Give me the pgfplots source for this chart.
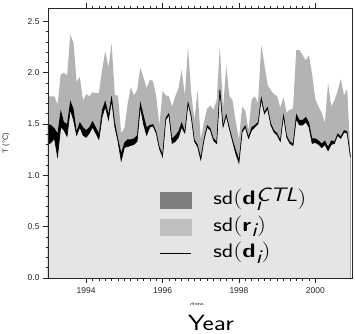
\documentclass[border=0pt]{standalone}
\usepackage{pgfplots}
\pgfplotsset{compat=1.18}
\usepackage{pgfplotstable}
\usepackage{graphicx}
\usepackage{fontspec}
\setmainfont{Liberation Sans}
\definecolor{bandgray}{HTML}{B3B3B3}
\definecolor{basegray}{HTML}{E5E5E5}
\definecolor{legdark}{HTML}{7F7F7F}
\definecolor{leglight}{HTML}{BFBFBF}

\pgfplotstableread{
t lo mid up
0 1.30 1.50 1.77
1 1.32 1.49 1.77
2 1.36 1.46 1.77
3 1.18 1.41 1.69
4 1.47 1.64 1.98
5 1.44 1.52 2.00
6 1.38 1.50 1.97
7 1.64 1.73 2.37
8 1.54 1.65 2.29
9 1.39 1.43 1.91
10 1.47 1.52 1.96
11 1.39 1.47 1.73
12 1.37 1.44 1.79
13 1.41 1.47 1.77
14 1.47 1.53 1.81
15 1.41 1.47 1.80
16 1.35 1.41 1.80
17 1.57 1.64 2.03
18 1.67 1.73 2.21
19 1.54 1.60 2.05
20 1.73 1.78 2.29
21 1.47 1.52 1.78
22 1.33 1.36 1.78
23 1.14 1.22 1.41
24 1.27 1.32 1.46
25 1.28 1.35 1.69
26 1.29 1.35 1.86
27 1.30 1.36 1.78
28 1.33 1.39 1.83
29 1.67 1.72 2.05
30 1.50 1.59 1.95
31 1.39 1.47 1.85
32 1.47 1.49 1.93
33 1.48 1.50 1.92
34 1.41 1.43 1.77
35 1.26 1.28 1.49
36 1.18 1.21 1.82
37 1.54 1.56 1.78
38 1.59 1.61 1.77
39 1.31 1.36 1.67
40 1.33 1.39 1.77
41 1.37 1.43 1.85
42 1.47 1.52 2.03
43 1.41 1.43 1.78
44 1.70 1.72 2.25
45 1.57 1.59 1.80
46 1.33 1.35 1.54
47 1.28 1.30 1.83
48 1.15 1.18 1.35
49 1.34 1.36 1.52
50 1.47 1.49 1.65
51 1.44 1.46 1.68
52 1.34 1.36 1.64
53 1.31 1.33 1.73
54 1.83 1.85 2.26
55 1.47 1.49 1.65
56 1.58 1.60 2.07
57 1.45 1.47 1.77
58 1.33 1.35 1.73
59 1.21 1.25 1.52
60 1.12 1.16 1.35
61 1.42 1.44 1.67
62 1.47 1.49 1.63
63 1.36 1.38 1.44
64 1.44 1.47 1.74
65 1.47 1.49 1.77
66 1.50 1.52 1.70
67 1.74 1.77 2.27
68 1.60 1.62 2.08
69 1.65 1.67 1.88
70 1.49 1.51 1.83
71 1.42 1.44 1.79
72 1.39 1.41 1.77
73 1.33 1.35 1.66
74 1.58 1.60 1.76
75 1.37 1.39 1.61
76 1.31 1.33 1.64
77 1.29 1.31 1.65
78 1.55 1.60 2.22
79 1.49 1.54 2.22
80 1.49 1.54 2.17
81 1.52 1.57 2.12
82 1.47 1.52 2.17
83 1.31 1.36 1.98
84 1.32 1.36 1.74
85 1.30 1.34 1.67
86 1.27 1.31 1.61
87 1.30 1.34 1.51
88 1.24 1.28 1.90
89 1.30 1.34 1.67
90 1.31 1.33 1.73
91 1.39 1.41 1.82
92 1.36 1.38 1.94
93 1.42 1.44 1.78
94 1.41 1.43 1.84
95 1.18 1.20 1.22
}\sdtable

\newcommand{\sdlab}[1]{\scalebox{1.22}[1]{sd$\bigl($#1$\bigr)$}}

\begin{document}
\begin{tikzpicture}
\begin{axis}[
  scale only axis, width=304pt, height=270pt,
  xmin=1993, xmax=2000.96, ymin=0, ymax=2.63,
  axis on top,
  axis line style={black!85, line width=0.6pt},
  xtick={1994,1996,1998,2000}, minor x tick num=11,
  ytick={0,0.5,1,1.5,2,2.5}, minor y tick num=4,
  xtick pos=both, ytick pos=left,
  tick align=outside,
  major tick length=5pt, minor tick length=2.5pt,
  tick style={black!85, line width=0.6pt},
  /pgf/number format/assume math mode=true,
  xticklabel style={/pgf/number format/1000 sep={}, font=\fontsize{8.5}{9}\selectfont, text=black!85},
  yticklabel style={/pgf/number format/fixed, /pgf/number format/fixed zerofill, /pgf/number format/precision=1, font=\fontsize{8.5}{9}\selectfont, text=black!85},
  xticklabel style={yshift=-1pt},
  ylabel={T (°C)},
  ylabel style={at={(axis description cs:-0.138,0.5)}, anchor=center, font=\fontsize{7.5}{8}\selectfont, text=black!85},
  xlabel={date},
  xlabel style={at={(axis description cs:0.49,0)}, anchor=center, yshift=-27pt, font=\fontsize{7}{8}\selectfont, text=black!85},
  legend cell align=left,
  legend style={at={(axis description cs:0.365,0.324)}, anchor=north west, draw=none, fill=none,
    inner sep=0pt, row sep=7.5pt, column sep=0pt,
    font=\sffamily\fontsize{19.5}{19.5}\selectfont,
    nodes={inner sep=0pt, text height=14pt, text depth=5pt}},
  /tikz/every odd column/.append style={column sep=22pt},
]
\addplot[draw=none, fill=bandgray, forget plot] table[x expr=1993+\thisrow{t}/12, y=up]{\sdtable} \closedcycle;
\addplot[draw=none, fill=black, forget plot] table[x expr=1993+\thisrow{t}/12, y=mid]{\sdtable} \closedcycle;
\addplot[draw=none, fill=basegray, forget plot] table[x expr=1993+\thisrow{t}/12, y=lo]{\sdtable} \closedcycle;
\addplot[black, line width=0.6pt, forget plot] table[x expr=1993+\thisrow{t}/12, y=lo]{\sdtable};

\addlegendimage{legend image code/.code={\fill[legdark] (0pt,-8pt) rectangle (31pt,8pt);}}
\addlegendentry{\sdlab{\textbf{d}\rlap{$_{\textit{i}}$}\raisebox{3.5pt}{\textit{CTL}}}}
\addlegendimage{legend image code/.code={\fill[leglight] (0pt,-8pt) rectangle (31pt,8pt);}}
\addlegendentry{\sdlab{\textbf{r}$_{\textit{i}}$}}
\addlegendimage{legend image code/.code={\draw[black, line width=1.2pt] (0pt,0pt) -- (31pt,0pt);}}
\addlegendentry{\sdlab{\textbf{d}$_{\textit{i}}$}}
\end{axis}
\node[anchor=base, fill=white, inner sep=0pt, text height=25pt, text depth=0pt, font=\sffamily\fontsize{22}{22}\selectfont] at (163pt,-52pt) {\scalebox{1.22}[1]{Year}};
\pgfresetboundingbox
\path (-48pt,-55pt) rectangle (307pt,278pt);
\end{tikzpicture}
\end{document}
